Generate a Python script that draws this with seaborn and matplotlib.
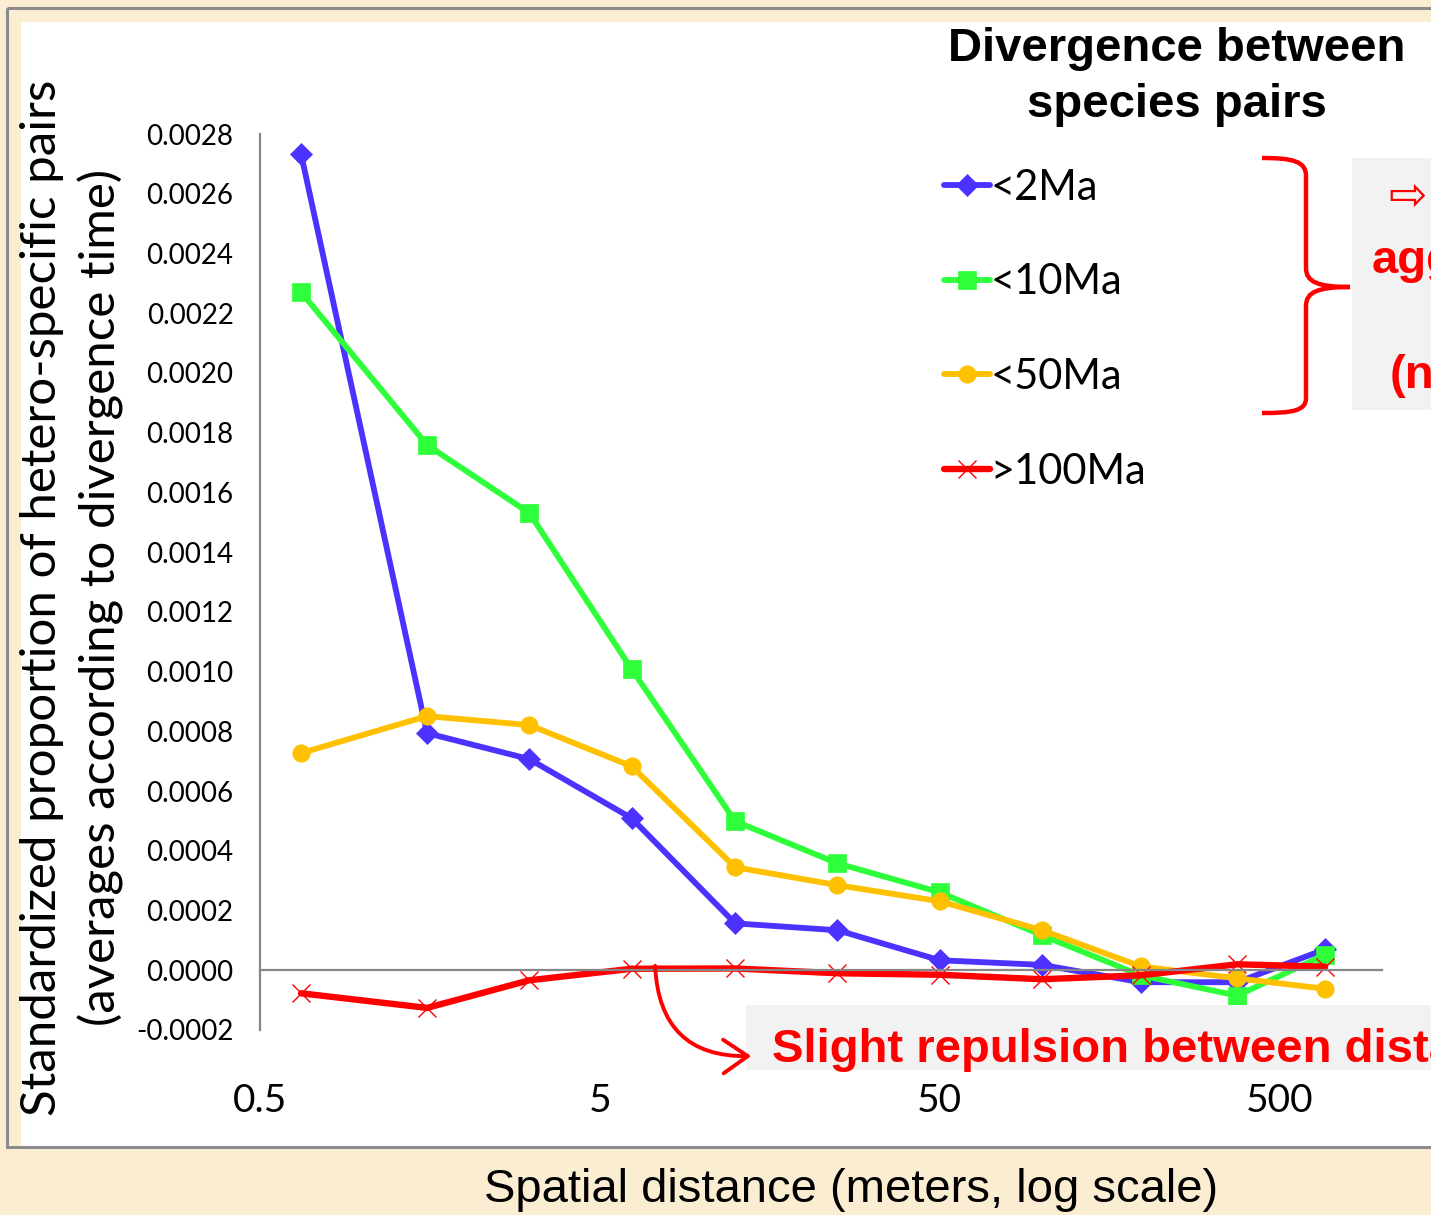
import numpy as np
import pandas as pd
import matplotlib
matplotlib.use("Agg")
import matplotlib.pyplot as plt
import seaborn as sns
from matplotlib.patches import Rectangle, FancyArrowPatch, PathPatch
from matplotlib.path import Path

# ---------------- data ----------------
distance_m = [0.66, 1.55, 3.1, 6.2, 12.5, 25, 50, 100, 195, 375, 680]
div_lt2 = [0.002734, 0.000794, 0.000707, 0.000509, 0.000157, 0.000134,
           0.0000335, 0.000018, -0.000040, -0.000040, 0.000070]
div_lt10 = [0.002271, 0.001759, 0.001531, 0.001008, 0.000499, 0.000358,
            0.000261, 0.000117, -0.000017, -0.000085, 0.000052]
div_lt50 = [0.000727, 0.000851, 0.000821, 0.000683, 0.000345, 0.000285,
            0.000231, 0.000134, 0.000013, -0.000027, -0.000062]
div_gt100 = [-0.000077, -0.000126, -0.0000335, 0.000005, 0.000006, -0.000010,
             -0.000015, -0.000030, -0.000017, 0.000020, 0.000012]
series_labels = ["<2Ma", "<10Ma", "<50Ma", ">100Ma"]
series_values = [div_lt2, div_lt10, div_lt50, div_gt100]
x_tick_values = [0.5, 5, 50, 500]
x_tick_labels = ["0.5", "5", "50", "500"]
y_tick_values = [-0.0002, 0.0, 0.0002, 0.0004, 0.0006, 0.0008, 0.0010, 0.0012,
                 0.0014, 0.0016, 0.0018, 0.0020, 0.0022, 0.0024, 0.0026, 0.0028]
y_tick_labels = ["-0.0002", "0.0000", "0.0002", "0.0004", "0.0006", "0.0008",
                 "0.0010", "0.0012", "0.0014", "0.0016", "0.0018", "0.0020",
                 "0.0022", "0.0024", "0.0026", "0.0028"]

df = pd.DataFrame({
    "distance": distance_m * 4,
    "value": sum(series_values, []),
    "series": sum([[s] * len(distance_m) for s in series_labels], []),
})

# ---------------- styles ----------------
colors = {"<2Ma": "#4B32FF", "<10Ma": "#2EFF3A", "<50Ma": "#FFC000", ">100Ma": "#FF0000"}
markers = {"<2Ma": "D", "<10Ma": "s", "<50Ma": "o", ">100Ma": "x"}
msizes = {"<2Ma": 11, "<10Ma": 12.5, "<50Ma": 12.5, ">100Ma": 13}

W, H = 1431, 1215
sns.set_style("white")
plt.rcParams["font.family"] = ["Lato", "DejaVu Sans"]
plt.rcParams["text.color"] = "black"
plt.rcParams["axes.labelcolor"] = "black"

fig = plt.figure(figsize=(W / 100, H / 100), dpi=100)
fig.patch.set_facecolor("#FAEDD2")

# background frame (pixel coordinates)
bg = fig.add_axes([0, 0, 1, 1], zorder=0)
bg.set_xlim(0, W); bg.set_ylim(H, 0); bg.axis("off")
bg.add_patch(Rectangle((21, 22), 1500, 1124, facecolor="white", edgecolor="none"))
bg.add_patch(Rectangle((7, 8), 1500, 1139, fill=False, edgecolor="#8C8C8C", lw=2.2))

# main axes
ax = fig.add_axes([260 / W, 1 - 1030 / H, 1122 / W, 896 / H], zorder=1)
ax.set_facecolor("none")
for s in series_labels:
    sub = df[df["series"] == s]
    sns.lineplot(data=sub, x="distance", y="value", ax=ax, color=colors[s],
                 marker=markers[s], markersize=msizes[s],
                 linewidth=4.6 if s == ">100Ma" else 4.2,
                 markeredgecolor=colors[s], markeredgewidth=1.0 if s == ">100Ma" else 0.5,
                 label=s, estimator=None, sort=False)

ax.set_xscale("log")
ax.set_xlim(0.5, 1000)
ax.set_ylim(-0.0002, 0.0028)
ax.set_xticks(x_tick_values)
ax.set_xticklabels(x_tick_labels)
ax.xaxis.set_minor_locator(matplotlib.ticker.NullLocator())
ax.set_yticks(y_tick_values)
ax.set_yticklabels(y_tick_labels)
ax.set_xlabel(""); ax.set_ylabel("")
for side in ["top", "right"]:
    ax.spines[side].set_visible(False)
ax.spines["bottom"].set_position(("data", 0))
for side in ["bottom", "left"]:
    ax.spines[side].set_color("#878787")
    ax.spines[side].set_linewidth(1.6)
ax.tick_params(axis="y", direction="out", length=9, width=1.5, color="#878787",
               pad=10, labelsize=20, labelcolor="black")
ax.tick_params(axis="x", direction="out", length=7, width=1.5, color="#878787",
               pad=74, labelsize=28, labelcolor="black")

handles, labels = ax.get_legend_handles_labels()
leg = ax.legend(handles, labels, loc="center left",
                bbox_to_anchor=(944 / W, 1 - 329.5 / H), bbox_transform=fig.transFigure,
                frameon=False, prop={"family": "Lato", "size": 30},
                handlelength=1.1, handletextpad=0.02, labelspacing=1.36,
                borderpad=0, borderaxespad=0, labelcolor="black")

# legend title
fig.text(1177 / W, 1 - 77 / H, "Divergence between\nspecies pairs",
         ha="center", va="center", multialignment="center", color="black",
         family="Liberation Sans", weight="bold", size=34, linespacing=1.34)

# axis titles
fig.text(72 / W, 1 - 597.5 / H,
         "Standardized proportion of hetero-specific pairs\n(averages according to divergence time)",
         rotation=90, ha="center", va="center", multialignment="center", color="black",
         family="Lato", size=35.5, linespacing=1.38)
fig.text(851 / W, 1 - 1190 / H, "Spatial distance (meters, log scale)",
         ha="center", va="center", family="Liberation Sans", size=34, color="black")

# annotations overlay
ov = fig.add_axes([0, 0, 1, 1], zorder=3)
ov.set_xlim(0, W); ov.set_ylim(H, 0); ov.axis("off")
ov.patch.set_alpha(0)

brace_verts = [(1262, 158), (1292, 158), (1306, 161), (1306, 176),
               (1306, 268),
               (1306, 282), (1318, 287), (1350, 287),
               (1318, 287), (1306, 292), (1306, 306),
               (1306, 398),
               (1306, 411), (1292, 413), (1262, 413)]
brace_codes = [Path.MOVETO, Path.CURVE4, Path.CURVE4, Path.CURVE4,
               Path.LINETO,
               Path.CURVE4, Path.CURVE4, Path.CURVE4,
               Path.CURVE4, Path.CURVE4, Path.CURVE4,
               Path.LINETO,
               Path.CURVE4, Path.CURVE4, Path.CURVE4]
ov.add_patch(PathPatch(Path(brace_verts, brace_codes), fill=False, edgecolor="#FF0000", lw=3.2))

ov.add_patch(Rectangle((1352, 158), 200, 252, facecolor="#F2F2F2", edgecolor="none"))
ov.text(1389, 197, "\u21E8 Intra-clade", ha="left", va="center", color="#FF0000",
        family=["DejaVu Sans"], size=33)
ov.text(1372, 273, "aggregation", ha="left", va="baseline", color="#FF0000",
        family="Liberation Sans", size=34, weight="bold")
ov.text(1390, 388, "(niche)", ha="left", va="baseline", color="#FF0000",
        family="Liberation Sans", size=34, weight="bold")

ov.add_patch(Rectangle((746, 1005), 800, 65, facecolor="#F2F2F2", edgecolor="none"))
ov.text(772, 1062, "Slight repulsion between distant lineages", ha="left", va="baseline",
        color="#FF0000", family="Liberation Sans", size=34, weight="bold")

ov.add_patch(FancyArrowPatch((655, 963), (754, 1056), connectionstyle="arc3,rad=0.5",
                             arrowstyle="->,head_length=0.8,head_width=0.55",
                             mutation_scale=22, lw=2.8, color="#FF0000"))

fig.savefig("out.png", dpi=100, facecolor=fig.get_facecolor())
